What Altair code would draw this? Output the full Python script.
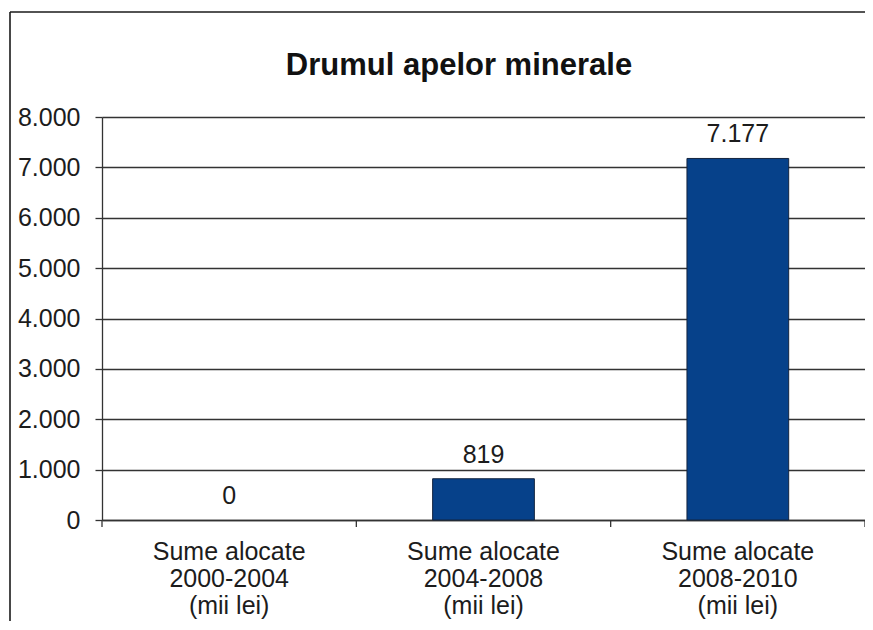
import altair as alt
import pandas as pd

categories = [
    "Sume alocate|2000-2004|(mii lei)",
    "Sume alocate|2004-2008|(mii lei)",
    "Sume alocate|2008-2010|(mii lei)",
]
values = [0, 819, 7177]
y_ticks = [0, 1000, 2000, 3000, 4000, 5000, 6000, 7000, 8000]
title_text = "Drumul apelor minerale"

df = pd.DataFrame({"cat": categories, "val": values})

FONT = "Liberation Sans"
TXT = "#1c1c1c"
LINE = "#333333"
BAR = "#06418a"

W, H = 763, 403

x_axis = alt.Axis(
    title=None, labelAngle=0, labelExpr="split(datum.label, '|')",
    labelFont=FONT, labelFontSize=25, labelColor=TXT, labelLineHeight=27,
    labelPadding=19, ticks=False, domainColor=LINE, domainWidth=1.3,
    labelAlign="center", labelBaseline="top", grid=False,
)
y_axis = alt.Axis(
    title=None, values=y_ticks,
    labelExpr="replace(format(datum.value, ','), ',', '.')",
    labelFont=FONT, labelFontSize=25, labelColor=TXT, labelPadding=15,
    tickSize=7, tickColor=LINE, tickWidth=1.3,
    domainColor=LINE, domainWidth=1.3,
    grid=True, gridColor=LINE, gridOpacity=1, gridWidth=1.3,
)
x_scale = alt.Scale(paddingInner=0, paddingOuter=0)
y_scale = alt.Scale(domain=[0, 8000], nice=False)


def xenc(**kw):
    return alt.X("cat:N", sort=categories, scale=x_scale, axis=x_axis, **kw)


yenc = alt.Y("val:Q", scale=y_scale, axis=y_axis)

bars = alt.Chart(df).mark_bar(
    width=alt.RelativeBandSize(0.4), color=BAR, stroke="#13243f", strokeWidth=1
).encode(
    x=xenc(), y=yenc,
    strokeOpacity=alt.condition(alt.datum.val > 0, alt.value(1), alt.value(0)),
)

labels = alt.Chart(df).transform_calculate(
    lbl="replace(format(datum.val, ','), ',', '.')"
).mark_text(
    dy=-16, baseline="alphabetic", font=FONT, fontSize=25, color=TXT
).encode(x=xenc(), y=yenc, text="lbl:N")

ticks_left = alt.Chart(df).mark_rule(color=LINE, strokeWidth=1.3).encode(
    x=xenc(bandPosition=0), y=alt.value(H), y2=alt.value(H + 7)
)
ticks_right = alt.Chart(df).transform_filter(
    alt.datum.cat == categories[-1]
).mark_rule(color=LINE, strokeWidth=1.3).encode(
    x=xenc(bandPosition=1), y=alt.value(H), y2=alt.value(H + 7)
)

single = alt.Data(values=[{"k": 1}])
frame_top = alt.Chart(single).mark_rule(color="#1a1a1a", strokeWidth=1.6).encode(
    x=alt.value(-92), x2=alt.value(W), y=alt.value(-105)
)
frame_left = alt.Chart(single).mark_rule(color="#1a1a1a", strokeWidth=1.6).encode(
    x=alt.value(-92), y=alt.value(-105), y2=alt.value(H + 110)
)
title = alt.Chart(single).mark_text(
    font=FONT, fontSize=31, fontWeight="bold", color="#111111",
    align="center", baseline="alphabetic",
).encode(x=alt.value(357), y=alt.value(-42), text=alt.value(title_text))

chart = alt.layer(
    bars, labels, ticks_left, ticks_right, frame_top, frame_left, title
).properties(
    width=W, height=H,
    padding={"left": 94, "top": 109, "right": 0, "bottom": 101},
    autosize="none",
    background="white",
).configure_view(stroke=None)

chart.save("out.html", embed_options={"renderer": "svg", "actions": False})
